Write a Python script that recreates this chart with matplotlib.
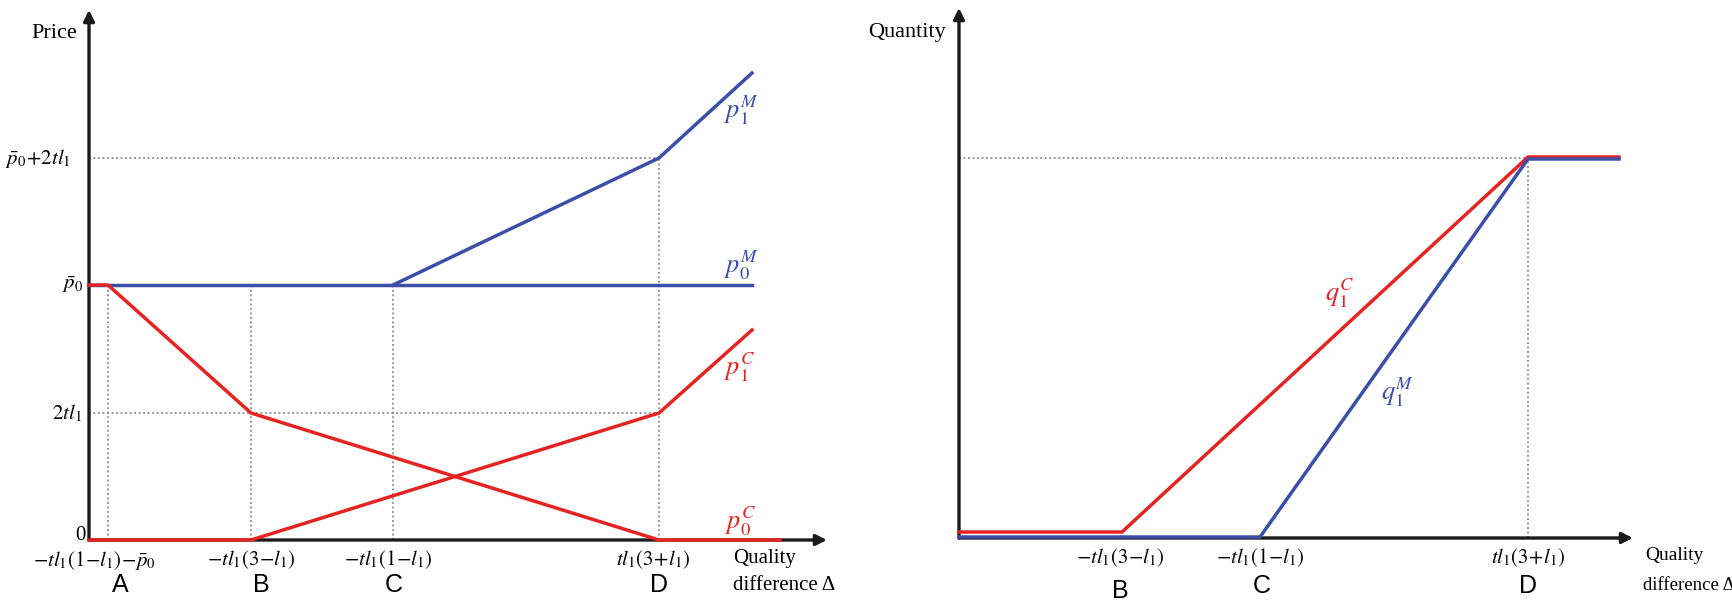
import matplotlib
matplotlib.use("Agg")
import matplotlib.pyplot as plt

plt.rcParams['font.family'] = 'serif'
plt.rcParams['font.serif'] = ['Liberation Serif', 'DejaVu Serif']
plt.rcParams['mathtext.fontset'] = 'stix'

# --- left panel: prices vs quality difference ---
delta_A, delta_B, delta_C, delta_D = 0.19, 1.62, 3.04, 5.70
delta_end, delta_end_p0c = 6.63, 6.91
p_bar0, two_tl1, p_top = 2.55, 1.27, 3.82

p0M_x = [0, delta_end]
p0M_y = [p_bar0, p_bar0]
p1M_x = [delta_C, delta_D, delta_end]
p1M_y = [p_bar0, p_top, 4.67]
p1C_x = [0, delta_B, delta_D, delta_end]
p1C_y = [0, 0, two_tl1, 2.10]
p0C_x = [0, delta_A, delta_B, delta_D, delta_end_p0c]
p0C_y = [p_bar0, p_bar0, two_tl1, 0, 0]

left_xticks = [r'$-tl_1(1\!-\!l_1)\!-\!\bar{p}_0$', r'$-tl_1(3\!-\!l_1)$',
               r'$-tl_1(1\!-\!l_1)$', r'$tl_1(3\!+\!l_1)$']
left_letters = ['A', 'B', 'C', 'D']

# --- right panel: quantities vs quality difference ---
q_B, q_C, q_D, q_end = 1.63, 3.01, 5.69, 6.60
q_top = 3.80
q1C_x = [0, q_B, q_D, q_end]
q1C_y = [0.06, 0.06, 3.81, 3.81]
q1M_x = [0, q_C, q_D, q_end]
q1M_y = [0.01, 0.01, 3.79, 3.79]

right_xticks = [r'$-tl_1(3\!-\!l_1)$', r'$-tl_1(1\!-\!l_1)$', r'$tl_1(3\!+\!l_1)$']
right_letters = ['B', 'C', 'D']

BLUE = '#3c4fa8'
RED = '#e52421'
GUIDE = dict(color='#8a8a8a', ls=(0, (1, 1.5)), lw=1.3, zorder=1)
AX = dict(arrowstyle='-|>', lw=2.4, color='#1a1a1a', mutation_scale=16, shrinkA=0, shrinkB=0)
FS = 15
LFS = 18
CFS = 19

fig = plt.figure(figsize=(17.33, 6.01), dpi=100)
ax1 = fig.add_axes([0, 0, 866 / 1733, 1])
ax2 = fig.add_axes([866 / 1733, 0, 867 / 1733, 1])
ax1.set_xlim(-0.89, 7.77)
ax1.set_ylim(-0.61, 5.40)
ax2.set_xlim(-0.93, 7.74)
ax2.set_ylim(-0.63, 5.38)
for ax in (ax1, ax2):
    ax.axis('off')

# left guides
ax1.plot([0, delta_D], [p_top, p_top], **GUIDE)
ax1.plot([0, delta_D], [two_tl1, two_tl1], **GUIDE)
for x in (delta_A, delta_B, delta_C):
    ax1.plot([x, x], [0, p_bar0], **GUIDE)
ax1.plot([delta_D, delta_D], [0, p_top], **GUIDE)

# left axes arrows
ax1.annotate('', xy=(0, 5.30), xytext=(0, 0), arrowprops=AX)
ax1.annotate('', xy=(7.38, 0), xytext=(0, 0), arrowprops=AX)

# left curves
ax1.plot(p0M_x, p0M_y, color=BLUE, lw=2.5, zorder=3)
ax1.plot(p1M_x, p1M_y, color=BLUE, lw=2.5, zorder=3)
ax1.plot(p1C_x, p1C_y, color=RED, lw=2.5, zorder=4)
ax1.plot(p0C_x, p0C_y, color=RED, lw=2.5, zorder=4)

ax1.text(-0.12, 5.07, 'Price', ha='right', va='center', fontsize=FS + 1)
ax1.text(-0.18, p_top, r'$\bar{p}_0\!+\!2tl_1$', ha='right', va='center', fontsize=FS)
ax1.text(-0.06, p_bar0, r'$\bar{p}_0$', ha='right', va='center', fontsize=FS)
ax1.text(-0.07, two_tl1, r'$2tl_1$', ha='right', va='center', fontsize=FS)
ax1.text(-0.03, 0.05, '0', ha='right', va='center', fontsize=FS)

for x, lab in zip([0.05, delta_B, 2.99, 5.64], left_xticks):
    ax1.text(x, -0.20, lab, ha='center', va='center', fontsize=FS)
for x, lab in zip([0.31, 1.72, 3.05, 5.70], left_letters):
    ax1.text(x, -0.45, lab, ha='center', va='center', fontsize=LFS, family='Liberation Sans')
ax1.text(6.44, -0.18, 'Quality', ha='left', va='center', fontsize=FS)
ax1.text(6.44, -0.45, 'difference Δ', ha='left', va='center', fontsize=FS)

ax1.text(6.53, 4.30, r'$p_1^M$', color=BLUE, ha='center', va='center', fontsize=CFS)
ax1.text(6.53, 2.75, r'$p_0^M$', color=BLUE, ha='center', va='center', fontsize=CFS)
ax1.text(6.51, 1.73, r'$p_1^C$', color=RED, ha='center', va='center', fontsize=CFS)
ax1.text(6.52, 0.19, r'$p_0^C$', color=RED, ha='center', va='center', fontsize=CFS)

# right guides
ax2.plot([0, q_D], [q_top, q_top], **GUIDE)
ax2.plot([q_D, q_D], [0, q_top], **GUIDE)

ax2.annotate('', xy=(0, 5.30), xytext=(0, 0), arrowprops=AX)
ax2.annotate('', xy=(6.74, 0), xytext=(0, 0), arrowprops=AX)

ax2.plot(q1C_x, q1C_y, color=RED, lw=2.5, zorder=3)
ax2.plot(q1M_x, q1M_y, color=BLUE, lw=2.5, zorder=4)

ax2.text(-0.13, 5.05, 'Quantity', ha='right', va='center', fontsize=FS + 1)
for x, lab in zip([1.61, q_C, q_D], right_xticks):
    ax2.text(x, -0.20, lab, ha='center', va='center', fontsize=FS)
for x, y, lab in zip([1.61, 3.03, 5.69], [-0.53, -0.48, -0.48], right_letters):
    ax2.text(x, y, lab, ha='center', va='center', fontsize=LFS, family='Liberation Sans')
ax2.text(6.86, -0.18, 'Quality', ha='left', va='center', fontsize=FS - 1)
ax2.text(6.84, -0.48, 'difference Δ', ha='left', va='center', fontsize=FS - 1.5)

ax2.text(3.81, 2.45, r'$q_1^C$', color=RED, ha='center', va='center', fontsize=CFS)
ax2.text(4.39, 1.46, r'$q_1^M$', color=BLUE, ha='center', va='center', fontsize=CFS)

fig.savefig('out.png', dpi=100)
